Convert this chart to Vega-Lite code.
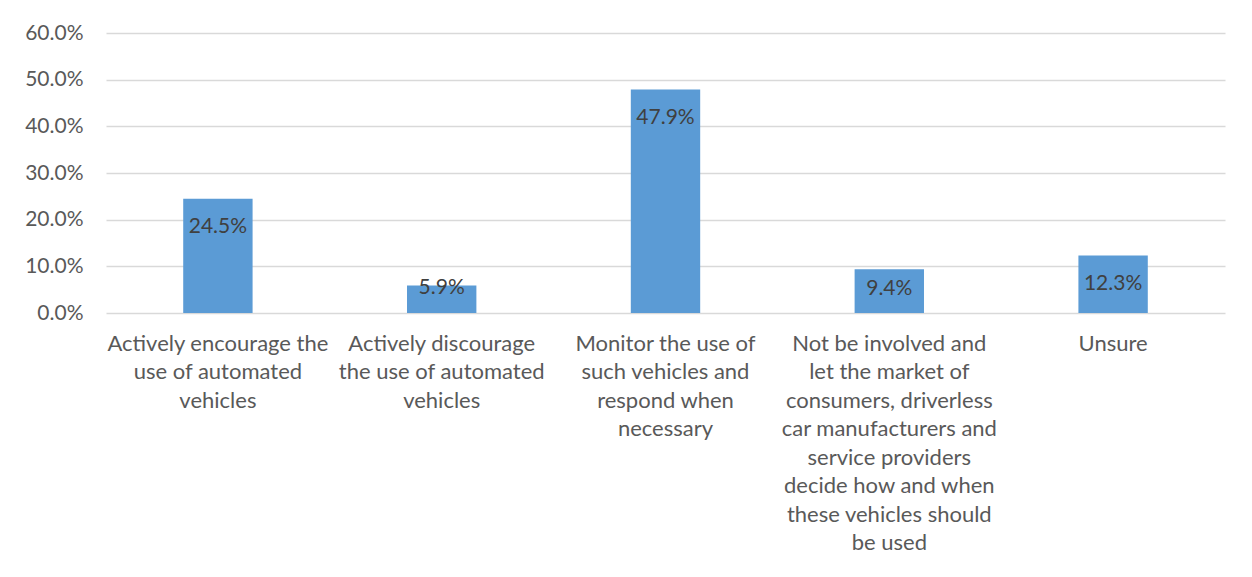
{
  "$schema": "https://vega.github.io/schema/vega-lite/v6.json",
  "width": 1119,
  "height": 280,
  "autosize": {"type": "none"},
  "padding": {"left": 106, "top": 33, "right": 27, "bottom": 264},
  "background": "white",
  "config": {
    "font": "Lato",
    "view": {"stroke": null}
  },
  "data": {
    "values": [
      {"response": "Actively encourage the\nuse of automated\nvehicles", "share": 0.245},
      {"response": "Actively discourage\nthe use of automated\nvehicles", "share": 0.059},
      {"response": "Monitor the use of\nsuch vehicles and\nrespond when\nnecessary", "share": 0.479},
      {"response": "Not be involved and\nlet the market of\nconsumers, driverless\ncar manufacturers and\nservice providers\ndecide how and when\nthese vehicles should\nbe used", "share": 0.094},
      {"response": "Unsure", "share": 0.123}
    ]
  },
  "encoding": {
    "x": {
      "field": "response",
      "type": "nominal",
      "sort": null,
      "scale": {"paddingInner": 0.69, "paddingOuter": 0.345},
      "axis": {
        "title": null,
        "labelAngle": 0,
        "labelExpr": "split(datum.value, '\\n')",
        "labelFont": "Lato",
        "labelFontSize": 22,
        "labelColor": "#595959",
        "labelLineHeight": 28.5,
        "labelPadding": 20,
        "labelLimit": 0,
        "ticks": false,
        "domain": false,
        "grid": false
      }
    },
    "y": {
      "field": "share",
      "type": "quantitative",
      "scale": {"domain": [0, 0.6]},
      "axis": {
        "title": null,
        "values": [0, 0.1, 0.2, 0.3, 0.4, 0.5, 0.6],
        "format": ".1%",
        "labelFont": "Lato",
        "labelFontSize": 21,
        "labelColor": "#595959",
        "labelPadding": 23,
        "ticks": false,
        "domain": false,
        "grid": true,
        "gridColor": "#D9D9D9",
        "gridWidth": 1.3
      }
    },
    "text": {"field": "share", "type": "quantitative", "format": ".1%"}
  },
  "layer": [
    {"mark": {"type": "bar", "color": "#5B9BD5"}, "encoding": {"text": null}},
    {
      "transform": [{"filter": "datum.share >= 0.1"}],
      "mark": {"type": "text", "baseline": "alphabetic", "dy": 34.5, "font": "Lato", "fontSize": 21, "color": "#404040"}
    },
    {
      "transform": [{"filter": "datum.share >= 0.07 && datum.share < 0.1"}],
      "mark": {"type": "text", "baseline": "alphabetic", "dy": 26, "font": "Lato", "fontSize": 21, "color": "#404040"}
    },
    {
      "transform": [{"filter": "datum.share < 0.07"}],
      "mark": {"type": "text", "baseline": "alphabetic", "dy": 9, "font": "Lato", "fontSize": 21, "color": "#404040"}
    }
  ]
}
